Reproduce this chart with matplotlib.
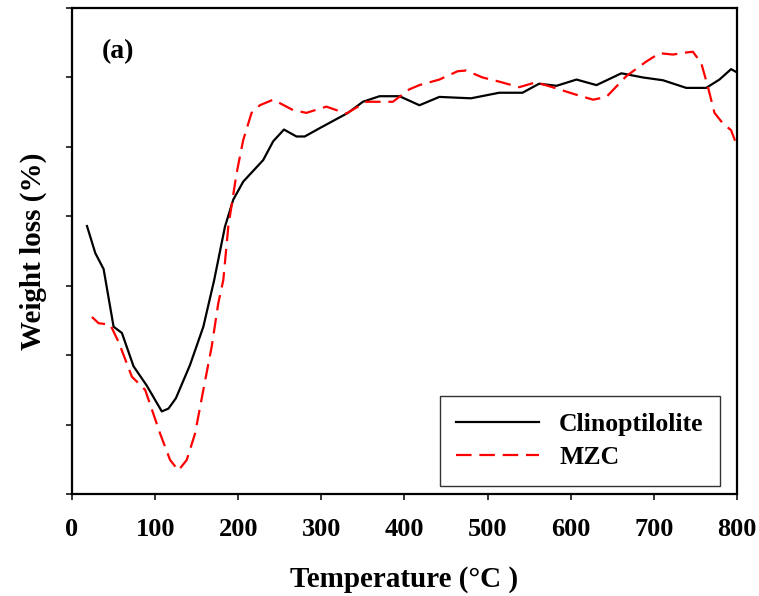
import matplotlib
matplotlib.use('Agg')
import matplotlib.pyplot as plt

plt.rcParams['font.family'] = ['Liberation Serif', 'DejaVu Serif']
plt.rcParams['font.weight'] = 'bold'

# Clinoptilolite (temperature in C, weight loss in arbitrary axis units)
clino_t = [18, 28, 38, 50, 60, 74, 90, 108, 116, 125, 142, 158, 171, 184, 194, 206,
           230, 242, 255, 270, 280, 298, 332, 350, 370, 394, 418, 442, 480, 514, 542,
           562, 583, 607, 631, 661, 687, 711, 739, 763, 779, 793, 799]
clino_w = [3.86, 3.47, 3.24, 2.41, 2.32, 1.84, 1.56, 1.19, 1.23, 1.38, 1.86, 2.41, 3.08,
           3.85, 4.24, 4.50, 4.81, 5.08, 5.25, 5.15, 5.15, 5.27, 5.49, 5.65, 5.73, 5.73,
           5.60, 5.72, 5.70, 5.78, 5.78, 5.91, 5.88, 5.97, 5.89, 6.06, 6.00, 5.96, 5.85,
           5.85, 5.97, 6.12, 6.08]

# MZC
mzc_t = [24, 32, 46, 56, 72, 88, 106, 118, 128, 138, 148, 158, 168, 176, 182, 188,
         198, 206, 216, 226, 242, 266, 282, 306, 330, 354, 386, 406, 418, 442, 464,
         474, 494, 514, 538, 558, 578, 607, 627, 643, 667, 691, 707, 723, 739, 747,
         757, 765, 773, 783, 793, 799]
mzc_w = [2.55, 2.46, 2.44, 2.19, 1.69, 1.50, 0.87, 0.49, 0.34, 0.49, 0.87, 1.50, 2.12,
         2.75, 3.08, 3.85, 4.62, 5.10, 5.49, 5.60, 5.68, 5.53, 5.49, 5.58, 5.48, 5.65,
         5.65, 5.83, 5.89, 5.97, 6.09, 6.10, 6.00, 5.94, 5.86, 5.93, 5.86, 5.75, 5.68,
         5.72, 6.02, 6.23, 6.35, 6.33, 6.36, 6.37, 6.21, 5.87, 5.49, 5.34, 5.24, 5.05]

x_ticks = [0, 100, 200, 300, 400, 500, 600, 700, 800]
y_ticks = [0, 1, 2, 3, 4, 5, 6, 7]

fig = plt.figure(figsize=(7.59, 5.96), dpi=100)
ax = fig.add_axes([0.0949, 0.1711, 0.876, 0.8154])

ax.plot(clino_t, clino_w, color='black', lw=1.6, label='Clinoptilolite')
ax.plot(mzc_t, mzc_w, color='red', lw=1.6, linestyle=(0, (7, 3.5)), label='MZC')

ax.set_xlim(0, 800)
ax.set_ylim(0, 7)
ax.set_xticks(x_ticks)
ax.set_yticks(y_ticks)
ax.set_yticklabels([])
ax.tick_params(direction='out', length=4.5, width=1.1, labelsize=19)
ax.tick_params(axis='x', pad=13)
for s in ax.spines.values():
    s.set_linewidth(1.6)

ax.set_xlabel('Temperature (\u00b0C )', fontsize=21, fontweight='bold', labelpad=18)
ax.set_ylabel('Weight loss (%)', fontsize=21, fontweight='bold', labelpad=10)
ax.text(0.045, 0.897, '(a)', transform=ax.transAxes, fontsize=20, fontweight='bold',
        va='baseline')

leg = ax.legend(loc='lower right', bbox_to_anchor=(0.975, 0.017), fontsize=18.5,
                frameon=True, fancybox=False, handlelength=3.2, borderpad=0.65,
                labelspacing=0.4, handletextpad=0.8, borderaxespad=0)
leg.get_frame().set_edgecolor('black')
leg.get_frame().set_linewidth(1.0)

fig.savefig('out.png', dpi=100)
